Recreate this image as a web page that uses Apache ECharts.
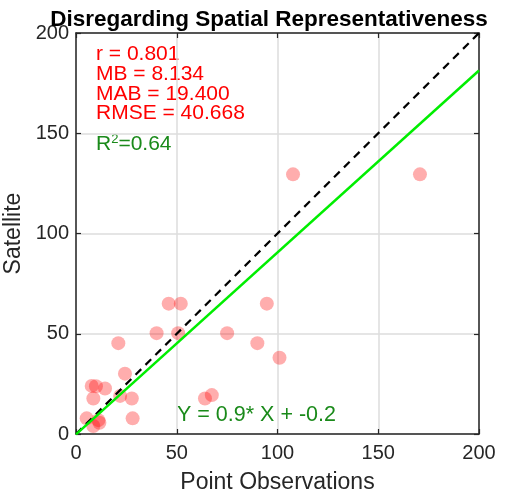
<!DOCTYPE html>
<html><head><meta charset="utf-8">
<script src="https://cdn.jsdelivr.net/npm/echarts@6/dist/echarts.min.js"></script>
<style>html,body{margin:0;padding:0;background:#fff}#c{width:512px;height:496px}</style>
</head><body><div id="c"></div>
<script>
const obsX = [46, 52, 40, 50.7, 21, 75, 90, 94.7, 101, 24.3, 7.8, 9.9, 14.4, 8.6, 21.9, 27.7, 28.1, 5.3, 11.1, 11.6, 8.6, 64, 67.4, 107.7, 170.7];
const satY = [65, 65, 50.3, 50.3, 45.3, 50.3, 45.3, 65, 38, 30.1, 24, 23.8, 22.7, 17.7, 19, 17.7, 7.8, 7.8, 6.9, 5.6, 4, 17.7, 19.4, 129.5, 129.5];
const oneToOneX = [0, 200];
const oneToOneY = [0, 200];
const fitX = [0, 200];
const fitY = [-0.2, 181.3];
const tickVals = [0, 50, 100, 150, 200];
const statsLines = ['r = 0.801', 'MB = 8.134', 'MAB = 19.400', 'RMSE = 40.668'];
const titleText = 'Disregarding Spatial Representativeness';
const eqText = 'Y = 0.9* X + -0.2';

const FONT = 'Liberation Sans, Arial, sans-serif';
const chart = echarts.init(document.getElementById('c'));
const gl = 76, gr = 33, gt = 33, gb = 62;
const axisCommon = {
  min: 0, max: 200, interval: 50,
  axisLine: {show: true, onZero: false, lineStyle: {color: '#262626', width: 1.5}},
  axisTick: {show: true, inside: true, length: 5, lineStyle: {color: '#262626', width: 1.2}},
};
chart.setOption({
  animation: false,
  backgroundColor: '#fff',
  title: {text: titleText, left: 264, top: 3, textAlign: 'center',
    textStyle: {fontFamily: FONT, fontWeight: 'bold', fontSize: 22.5, color: '#000'}},
  grid: {left: gl, right: gr, top: gt, bottom: gb, containLabel: false, outerBoundsMode: 'none'},
  xAxis: [
    Object.assign({type: 'value', position: 'bottom', name: 'Point Observations', nameLocation: 'middle', nameGap: 37,
      nameTextStyle: {fontFamily: FONT, fontSize: 23, color: '#262626'},
      axisLabel: {fontFamily: FONT, fontSize: 20, color: '#262626', margin: 9},
      splitLine: {show: true, lineStyle: {color: '#dcdcdc', width: 1.5}}}, axisCommon),
    Object.assign({type: 'value', position: 'top', axisLabel: {show: false}, splitLine: {show: false}}, axisCommon)
  ],
  yAxis: [
    Object.assign({type: 'value', position: 'left', name: 'Satellite', nameLocation: 'middle', nameGap: 40,
      nameTextStyle: {fontFamily: FONT, fontSize: 23, color: '#262626'},
      axisLabel: {fontFamily: FONT, fontSize: 20, color: '#262626', margin: 7},
      splitLine: {show: true, lineStyle: {color: '#dcdcdc', width: 1.5}}}, axisCommon),
    Object.assign({type: 'value', position: 'right', axisLabel: {show: false}, splitLine: {show: false}}, axisCommon)
  ],
  series: [
    {type: 'scatter', data: obsX.map((x, i) => [x, satY[i]]), symbolSize: 14,
      itemStyle: {color: 'rgba(255,0,0,0.4)'}, z: 2},
    {type: 'line', data: oneToOneX.map((x, i) => [x, oneToOneY[i]]), symbol: 'none',
      lineStyle: {color: '#000', width: 2.2, type: [8, 6]}, z: 3},
    {type: 'line', data: fitX.map((x, i) => [x, fitY[i]]), symbol: 'none',
      lineStyle: {color: '#00ee00', width: 2.5}, z: 4}
  ],
  graphic: [
    {type: 'text', left: 96, top: 44, style: {text: statsLines.join('\n'), fontFamily: FONT, fontSize: 21, lineHeight: 19.7, fill: '#ff0000'}},
    {type: 'text', left: 96, top: 133, style: {text: '{a|R}{s|2}{a|=0.64}', fontFamily: FONT,
      rich: {a: {fontSize: 21, fill: '#1a8a1a', fontFamily: FONT, verticalAlign: 'bottom'}, s: {fontSize: 13, fill: '#1a8a1a', fontFamily: FONT, verticalAlign: 'top', padding: [0,0,9,0]}}}},
    {type: 'text', left: 177, top: 404, style: {text: eqText, fontFamily: FONT, fontSize: 21.5, fill: '#1a8a1a'}}
  ]
});
</script></body></html>
